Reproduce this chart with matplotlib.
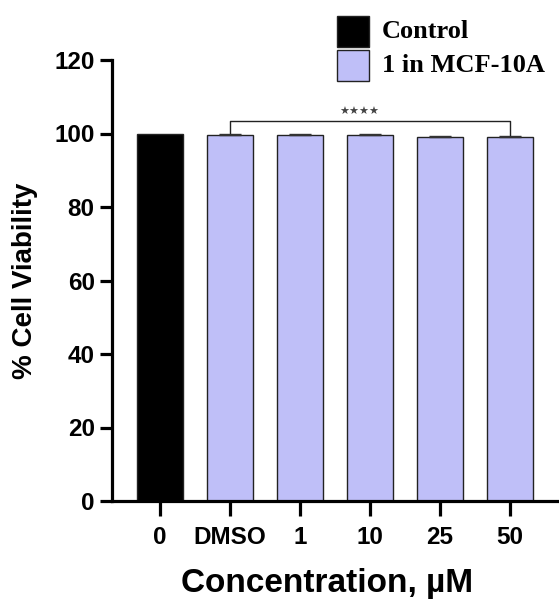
import matplotlib
matplotlib.use("Agg")
import matplotlib.pyplot as plt
from matplotlib.patches import Rectangle
import numpy as np

categories = ["0", "DMSO", "1", "10", "25", "50"]
values = [100.0, 99.5, 99.5, 99.5, 99.1, 99.1]
errors = [0.0, 0.3, 0.3, 0.3, 0.3, 0.3]
groups = ["Control", "1 in MCF-10A", "1 in MCF-10A", "1 in MCF-10A", "1 in MCF-10A", "1 in MCF-10A"]
legend_labels = ["Control", "1 in MCF-10A"]
yticks = [0, 20, 40, 60, 80, 100, 120]
sig_label = "★★★★"

colors = {"Control": "#000000", "1 in MCF-10A": "#BFBFF8"}

W, H = 559, 601
fig = plt.figure(figsize=(W / 100, H / 100), dpi=100)
ax = fig.add_axes([112 / W, 1 - 501 / H, 446 / W, 441 / H])

x = np.arange(len(categories))
for i, (v, e, g) in enumerate(zip(values, errors, groups)):
    ax.bar(x[i], v, width=0.66, color=colors[g], edgecolor="#222222", linewidth=1.0, zorder=2)
    if e > 0:
        ax.errorbar(x[i], v, yerr=[[0], [e]], fmt="none", ecolor="#333333",
                    elinewidth=1.0, capsize=8, capthick=1.0, zorder=3)

ax.set_xlim(-0.69, 5.69)
ax.set_ylim(0, 120)
ax.set_xticks(x)
ax.set_xticklabels(categories)
ax.set_yticks(yticks)

for s in ["top", "right"]:
    ax.spines[s].set_visible(False)
for s in ["left", "bottom"]:
    ax.spines[s].set_linewidth(2.3)

ax.tick_params(axis="x", length=11, width=2.3, pad=7)
ax.tick_params(axis="y", length=8.5, width=2.3, pad=4)
for lab in ax.get_xticklabels() + ax.get_yticklabels():
    lab.set_fontfamily("Liberation Sans")
    lab.set_fontweight("bold")
    lab.set_fontsize(17.5)

ax.set_ylabel("% Cell Viability", fontfamily="Liberation Sans", fontweight="bold", fontsize=20)
ax.yaxis.set_label_coords(-0.166, 0.5)
ax.set_xlabel("Concentration, µM", fontfamily="Liberation Sans", fontweight="bold", fontsize=24)
ax.xaxis.set_label_coords(0.482, -0.152)

# significance bracket
y_br = 103.5
ax.plot([x[1], x[1], x[5], x[5]], [values[1] + 0.6, y_br, y_br, values[5] + 0.6],
        color="#222222", linewidth=1.0, zorder=3)
ax.text(2.85, y_br + 0.9, sig_label, ha="center", va="bottom", fontsize=8,
        fontfamily="DejaVu Sans", color="#444444")

# legend drawn in figure pixel coordinates
def px(xp, yp):
    return xp / W, 1 - yp / H

legend_colors = [colors[l] for l in legend_labels]
for k, (lab, col) in enumerate(zip(legend_labels, legend_colors)):
    top = 16 + 34 * k
    x0, y0 = px(337, top + 31)
    fig.add_artist(Rectangle((x0, y0), 32 / W, 31 / H, transform=fig.transFigure,
                             facecolor=col, edgecolor="#222222", linewidth=1.0))
    tx, ty = px(382, top + 15.5)
    fig.text(tx, ty, lab, ha="left", va="center", fontfamily="Liberation Serif",
             fontweight="bold", fontsize=19)

fig.savefig("out.png", dpi=100)
